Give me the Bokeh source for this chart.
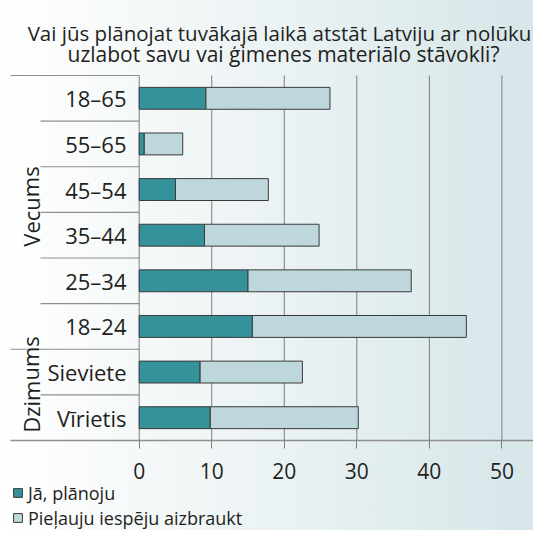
from bokeh.plotting import figure
from bokeh.models import (ColumnDataSource, Range1d, FixedTicker, Legend, LegendItem)
from bokeh.core.properties import value
from bokeh.embed import file_html
from bokeh.resources import INLINE

# ---------------- data ----------------
categories = ["18–65", "55–65", "45–54", "35–44", "25–34", "18–24", "Sieviete", "Vīrietis"]
plan_yes = [9.2, 0.7, 5.0, 9.0, 15.0, 15.6, 8.4, 9.8]          # Jā, plānoju
plan_total = [26.3, 6.0, 17.8, 24.8, 37.5, 45.1, 22.5, 30.2]   # end of stacked bar
plan_maybe = [round(t - y, 1) for t, y in zip(plan_total, plan_yes)]  # Pieļauju iespēju aizbraukt
groups = ["Vecums", "Dzimums"]
group_sizes = [6, 2]
x_ticks = [0, 10, 20, 30, 40, 50]
series_names = ["Jā, plānoju", "Pieļauju iespēju aizbraukt"]
title_lines = ["Vai jūs plānojat tuvākajā laikā atstāt Latviju ar nolūku",
               "uzlabot savu vai ģimenes materiālo stāvokli?"]

# ---------------- styling constants ----------------
FONT = "Open Sans"
TXT = "#231f20"
DARK = "#35929a"
LIGHT = "#bed7dc"
GRID = "#7d7d7d"
SEP = "#8e8e8e"
BG = {"background": "linear-gradient(to right, #ffffff 0%, #eef4f5 45%, #d6e6e9 100%)"}

W, H = 533, 530
ZERO_PX = 138.7          # px of x = 0
PX_PER_UNIT = 7.254      # px per x unit
ROWS_TOP, ROWS_BOTTOM = 75, 440   # px of y = n and y = 0
n = len(categories)
row_px = (ROWS_BOTTOM - ROWS_TOP) / n
x_start = -ZERO_PX / PX_PER_UNIT
x_end = (W - ZERO_PX) / PX_PER_UNIT
y_top = ROWS_BOTTOM / row_px
y_bottom = -(H - ROWS_BOTTOM) / row_px


def px_to_x(px):
    return (px - ZERO_PX) / PX_PER_UNIT


def px_to_y(py):
    return (ROWS_BOTTOM - py) / row_px


ys = [n - 1 - i + 0.5 for i in range(n)]
source = ColumnDataSource(dict(cat=categories, y=ys, yes=plan_yes, maybe=plan_maybe))

p = figure(width=W, height=H, output_backend="svg", toolbar_location=None,
           x_range=Range1d(x_start, x_end), y_range=Range1d(y_bottom, y_top),
           y_axis_location=None, min_border=0,
           background_fill_color=None, border_fill_color=None,
           outline_line_color=None)
p.styles = BG
p.title.visible = False

# x axis, drawn at y = 0 inside the plot area
ax = p.xaxis[0]
ax.fixed_location = 0
ax.bounds = (px_to_x(10), x_end)
ax.ticker = FixedTicker(ticks=x_ticks)
ax.axis_line_color = SEP
ax.axis_line_width = 1.5
ax.major_tick_line_color = GRID
ax.major_tick_out = 8
ax.major_tick_in = 0
ax.minor_tick_line_color = None
ax.major_label_standoff = 14
ax.major_label_text_font = FONT
ax.major_label_text_font_size = "21px"
ax.major_label_text_color = TXT

p.grid.grid_line_color = None
# vertical grid lines over the bar area only
p.segment(x0=x_ticks, y0=[0] * len(x_ticks), x1=x_ticks, y1=[n] * len(x_ticks),
          line_color=GRID, line_width=1)

# stacked bars
rs = p.hbar_stack(["yes", "maybe"], y="y", height=0.48, color=[DARK, LIGHT],
                  line_color="#3a3a3a", line_width=1, source=source)

# row separators on the left
group_bounds = {n}
acc = 0
for s in group_sizes:
    acc += s
    group_bounds.add(acc)
for k in range(1, n + 1):
    yb = n - k if k < n else n
    kk = k if k < n else n
    x0 = px_to_x(10) if kk in group_bounds else px_to_x(40)
    p.segment(x0=[x0], y0=[yb], x1=[0], y1=[yb], line_color=SEP, line_width=1.2)

# category labels
p.text(x=px_to_x(126), y="y", text="cat", source=source, text_align="right",
       text_baseline="middle", text_font=value(FONT), text_font_size="22px",
       text_color=TXT)

# group labels (rotated)
group_y_px = [206, 384]
for gname, gy in zip(groups, group_y_px):
    p.text(x=[px_to_x(30)], y=[px_to_y(gy)], text=[gname], angle=1.5708,
           text_align="center", text_baseline="alphabetic", text_font=value(FONT),
           text_font_size="22px", text_color=TXT)

# title lines
for line, cx, by, fs in zip(title_lines, [279, 283], [32, 53], ["20.5px", "21px"]):
    p.text(x=[px_to_x(cx)], y=[px_to_y(by)], text=[line], text_align="center",
           text_baseline="alphabetic", text_font=value(FONT), text_font_size=fs,
           text_color=TXT)

# legend, one block per series, stacked at the bottom left
for i, vy in enumerate([25, 0]):
    p.add_layout(Legend(items=[LegendItem(label=series_names[i], renderers=[rs[i]])],
                        location=(12, vy), glyph_width=11, glyph_height=11,
                        label_standoff=5, label_height=25, spacing=0, padding=0,
                        margin=0, border_line_color=None, background_fill_color=None,
                        label_text_font=FONT, label_text_font_size="18px",
                        label_text_color=TXT))

open("out.html", "w").write(file_html(p, INLINE))
